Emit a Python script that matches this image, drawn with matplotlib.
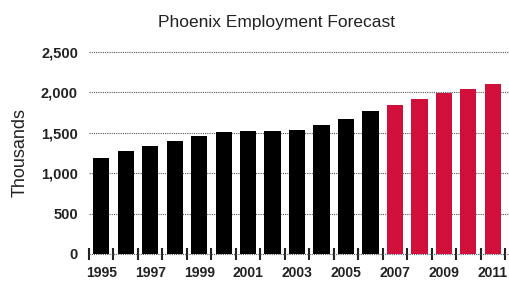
import matplotlib
matplotlib.use("Agg")
import matplotlib.pyplot as plt
from matplotlib.ticker import FixedLocator
import numpy as np

# === Données ===
years = list(range(1995, 2012))
employment = [1185, 1267, 1337, 1399, 1461, 1506, 1515, 1515, 1535, 1593,
              1667, 1762, 1841, 1915, 1985, 2039, 2100]
forecast_start = 2007
tick_years = [1995, 1997, 1999, 2001, 2003, 2005, 2007, 2009, 2011]
yticks = [0, 500, 1000, 1500, 2000, 2500]

plt.rcParams['font.family'] = ['Liberation Sans', 'DejaVu Sans']

fig = plt.figure(figsize=(5.1, 2.82), dpi=100)
ax = fig.add_axes([0.1745, 0.0993, 0.8255, 0.7174])

x = np.arange(len(years))
colors = ["#d0103a" if y >= forecast_start else "black" for y in years]
ax.bar(x, employment, width=0.66, color=colors, zorder=3)

ax.set_ylim(0, 2500)
ax.set_xlim(-0.5, 16.7)
ax.set_yticks(yticks)
ax.set_yticklabels([f"{v:,}" for v in yticks], fontsize=10.5, fontweight="bold", color="#222222")
ax.set_xticks([years.index(y) for y in tick_years])
ax.set_xticklabels([str(y) for y in tick_years], fontsize=10, fontweight="bold", color="#222222")
ax.xaxis.set_minor_locator(FixedLocator(np.arange(-0.5, 17, 1)))
ax.tick_params(axis="x", which="major", length=0, pad=9)
ax.tick_params(axis="x", which="minor", bottom=True, length=9, width=1.5,
               direction="inout", color="#222222")
ax.tick_params(axis="y", length=0, pad=8)

ax.grid(axis="y", color="#555566", linestyle=(0, (1, 1)), linewidth=0.8, zorder=0, clip_on=False)
for s in ax.spines.values():
    s.set_visible(False)

ax.set_ylabel("Thousands", fontsize=13, color="#222222", labelpad=9)
ax.set_title("Phoenix Employment Forecast", fontsize=12.5, color="#222222",
             pad=18, x=0.446)

fig.savefig("out.png", dpi=100)
